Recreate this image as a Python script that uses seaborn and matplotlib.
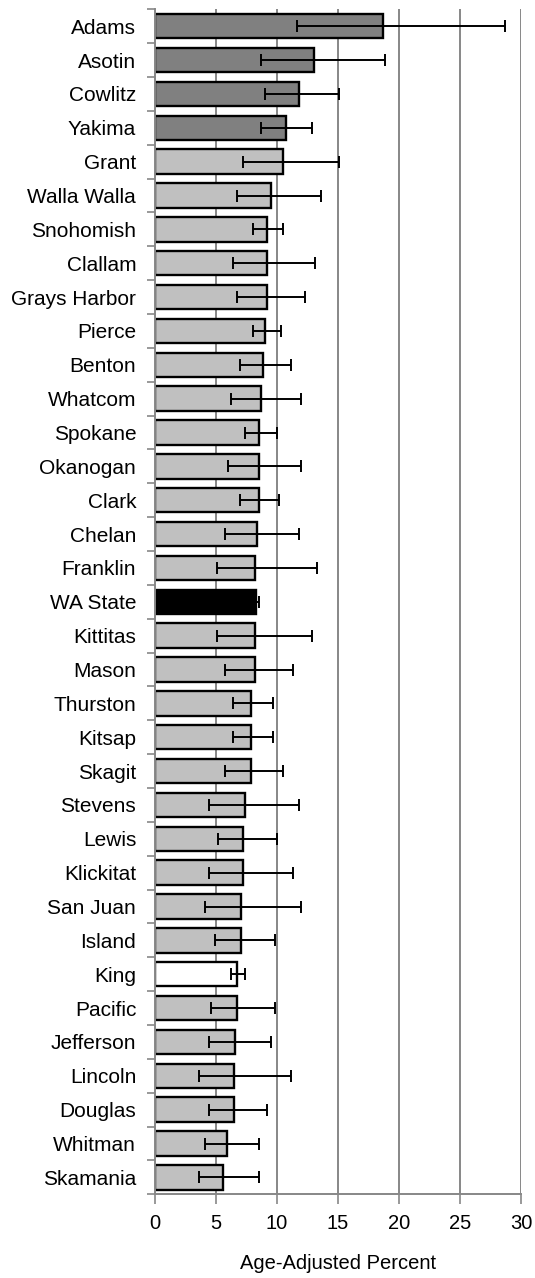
import numpy as np
import pandas as pd
import matplotlib
matplotlib.use("Agg")
import matplotlib.pyplot as plt
from matplotlib.ticker import FixedLocator
import seaborn as sns

counties = ["Adams", "Asotin", "Cowlitz", "Yakima", "Grant", "Walla Walla",
            "Snohomish", "Clallam", "Grays Harbor", "Pierce", "Benton",
            "Whatcom", "Spokane", "Okanogan", "Clark", "Chelan", "Franklin",
            "WA State", "Kittitas", "Mason", "Thurston", "Kitsap", "Skagit",
            "Stevens", "Lewis", "Klickitat", "San Juan", "Island", "King",
            "Pacific", "Jefferson", "Lincoln", "Douglas", "Whitman", "Skamania"]
percent = [18.7, 13.0, 11.8, 10.7, 10.5, 9.55, 9.2, 9.2, 9.2, 9.05, 8.85,
           8.7, 8.55, 8.55, 8.55, 8.4, 8.2, 8.25, 8.2, 8.2, 7.9, 7.9, 7.9,
           7.35, 7.2, 7.2, 7.05, 7.05, 6.75, 6.75, 6.55, 6.45, 6.45, 5.9, 5.6]
ci_low = [11.65, 8.7, 9.0, 8.7, 7.2, 6.7, 8.0, 6.4, 6.7, 8.0, 7.0,
          6.2, 7.35, 6.0, 7.0, 5.7, 5.05, 8.0, 5.05, 5.7, 6.4, 6.4, 5.7,
          4.4, 5.2, 4.4, 4.1, 4.9, 6.2, 4.6, 4.4, 3.6, 4.4, 4.1, 3.6]
ci_high = [28.7, 18.85, 15.1, 12.9, 15.1, 13.6, 10.5, 13.1, 12.3, 10.3, 11.15,
           12.0, 10.0, 12.0, 10.2, 11.8, 13.3, 8.5, 12.9, 11.3, 9.65, 9.65, 10.5,
           11.8, 10.0, 11.3, 12.0, 9.85, 7.4, 9.85, 9.5, 11.15, 9.15, 8.55, 8.55]
group = ["high"] * 4 + ["other"] * 13 + ["state"] + ["other"] * 10 + ["king"] + ["other"] * 6
x_ticks = [0, 5, 10, 15, 20, 25, 30]
x_title = "Age-Adjusted Percent"

group_colors = {"high": "#808080", "other": "#c0c0c0", "state": "#000000", "king": "#ffffff"}

df = pd.DataFrame({"county": counties, "percent": percent,
                   "low": ci_low, "high": ci_high, "group": group})

sns.set_style("white")
plt.rcParams["font.family"] = ["Liberation Sans", "DejaVu Sans"]
plt.rcParams["text.color"] = "black"
plt.rcParams["xtick.labelcolor"] = "black"
plt.rcParams["ytick.labelcolor"] = "black"
plt.rcParams["axes.labelcolor"] = "black"

fig = plt.figure(figsize=(5.35, 12.78), dpi=100)
ax = fig.add_axes([0.2897, 0.0655, 0.6841, 0.9272])

grid_color = "#878787"
for v in x_ticks[1:]:
    ax.axvline(v, color=grid_color, lw=1.4, zorder=0)

palette = [group_colors[g] for g in df["group"]]
sns.barplot(data=df, x="percent", y="county", hue="county", palette=palette,
            legend=False, edgecolor="black", linewidth=1.7, width=0.72,
            orient="h", ax=ax, zorder=2)

ypos = np.arange(len(df))
xerr = np.vstack([df["percent"] - df["low"], df["high"] - df["percent"]])
ax.errorbar(df["percent"], ypos, xerr=xerr, fmt="none", ecolor="black",
            elinewidth=1.4, capsize=4.5, capthick=1.4, zorder=3)

ax.set_xlim(0, 30)
ax.set_ylim(len(df) - 0.5, -0.5)
ax.set_xticks(x_ticks)
ax.set_xticklabels([str(t) for t in x_ticks], fontsize=14.5)
ax.set_xlabel(x_title, fontsize=14.5, labelpad=15)
ax.set_ylabel("")
ax.tick_params(axis="y", which="major", length=0, pad=13.5, labelsize=15)
ax.yaxis.set_minor_locator(FixedLocator(np.arange(-0.5, len(df), 1.0)))
ax.tick_params(axis="y", which="minor", length=6, width=1.2, color=grid_color, left=True)
ax.tick_params(axis="x", which="major", length=7, width=1.2, color=grid_color,
               bottom=True, pad=7)

for side in ["top", "right"]:
    ax.spines[side].set_visible(False)
for side in ["left", "bottom"]:
    ax.spines[side].set_color(grid_color)
    ax.spines[side].set_linewidth(1.4)

fig.savefig("out.png", dpi=100)
